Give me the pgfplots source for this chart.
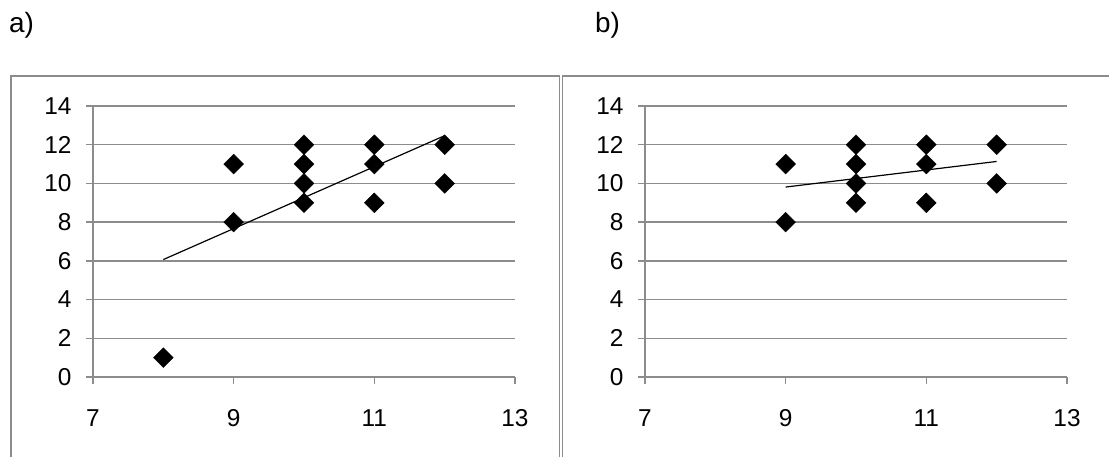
\documentclass[border=0pt]{standalone}
\usepackage{pgfplots}
\pgfplotsset{compat=1.18}
\usepackage{fontspec}
\setmainfont{Liberation Sans}
\definecolor{gridgray}{HTML}{8C8C8C}
\pgfplotsset{
  panel/.style={
    scale only axis, width=422bp, height=271bp,
    xmin=7, xmax=13, ymin=0, ymax=14,
    xtick={7,9,11,13}, ytick={0,2,...,14},
    axis x line*=bottom, axis y line*=left,
    axis line style={gridgray, line width=1.3bp, -},
    tick style={gridgray, line width=1.3bp},
    tick align=outside, major tick length=7bp,
    ymajorgrids, major grid style={gridgray, line width=1.3bp},
    tick label style={font=\fontsize{24.5}{28}\selectfont},
    /pgf/number format/assume math mode=true,
    yticklabel style={anchor=east, xshift=-11bp},
    xticklabel style={anchor=north, yshift=-22bp},
    clip=false,
  },
  pts/.style={only marks, mark=square*, mark size=7bp, mark options={rotate=45, fill=black, draw=black}},
  trend/.style={black, line width=1.2bp, no marks},
}
\begin{document}
\begin{tikzpicture}
\useasboundingbox (0bp,0bp) rectangle (1109bp,457bp);
% frames
\draw[gridgray, line width=1.3bp] (11bp,-5bp) -- (11bp,381bp) -- (559.5bp,381bp) -- (559.5bp,-5bp);
\draw[gridgray, line width=1.3bp] (562.5bp,-5bp) -- (562.5bp,381bp) -- (1115bp,381bp);
\node[anchor=base west, inner sep=0, font=\fontsize{28}{32}\selectfont] at (9bp,424bp) {a)};
\node[anchor=base west, inner sep=0, font=\fontsize{28}{32}\selectfont] at (595bp,424bp) {b)};
\begin{axis}[panel, at={(93bp,80bp)}, anchor=south west]
\addplot[pts] coordinates {(8,1) (9,11) (9,8) (10,12) (10,11) (10,10) (10,9) (11,12) (11,11) (11,9) (12,12) (12,10)};
\addplot[trend] coordinates {(8,6.067) (12,12.467)};
\end{axis}
\begin{axis}[panel, at={(645bp,80bp)}, anchor=south west]
\addplot[pts] coordinates {(9,11) (9,8) (10,12) (10,11) (10,10) (10,9) (11,12) (11,11) (11,9) (12,12) (12,10)};
\addplot[trend] coordinates {(9,9.813) (12,11.135)};
\end{axis}
\end{tikzpicture}
\end{document}
